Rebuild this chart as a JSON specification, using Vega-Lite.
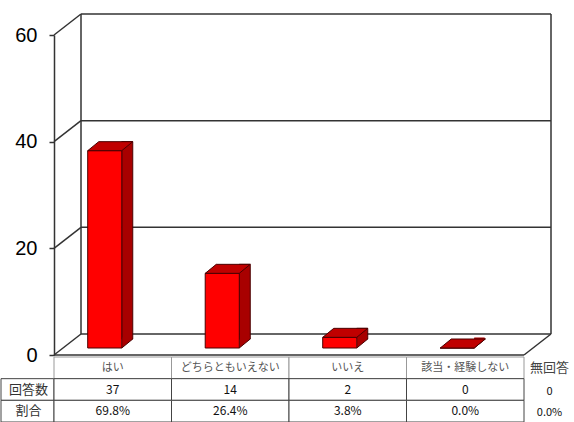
{
  "$schema": "https://vega.github.io/schema/vega-lite/v6.json",
  "background": "white",
  "padding": {"top": 13, "left": 0, "right": 0, "bottom": 0},
  "config": {"view": {"stroke": null}, "font": "Noto Sans CJK JP"},
  "datasets": {
    "answers": [
      {"cat": "はい", "n": 37, "pct": "69.8%"},
      {"cat": "どちらともいえない", "n": 14, "pct": "26.4%"},
      {"cat": "いいえ", "n": 2, "pct": "3.8%"},
      {"cat": "該当・経験しない", "n": 0, "pct": "0.0%"}
    ],
    "noanswer": [{"cat": "無回答", "n": 0, "pct": "0.0%"}],
    "ticks": [{"v": 0}, {"v": 20}, {"v": 40}, {"v": 60}],
    "rowheads": [{"h": "回答数"}, {"h": "割合"}]
  },
  "columns": 3,
  "bounds": "flush",
  "spacing": {"row": 2, "column": 0},
  "concat": [
    {
      "width": 53, "height": 320,
      "data": {"values": [{}]},
      "mark": {"type": "text"},
      "encoding": {"text": {"value": ""}}
    },
    {
      "width": 470, "height": 320,
      "resolve": {"scale": {"x": "independent"}},
      "layer": [
        {
          "data": {"name": "ticks"},
          "mark": {"type": "rule", "color": "#333333", "strokeWidth": 1.5, "xOffset": 27, "x2Offset": 27, "yOffset": -21, "y2Offset": -21},
          "encoding": {
            "x": {"datum": 0, "type": "quantitative", "scale": {"domain": [0, 1]}, "axis": null},
            "x2": {"datum": 1},
            "y": {
              "field": "v", "type": "quantitative",
              "scale": {"domain": [0, 60], "nice": false},
              "axis": {
                "values": [0, 20, 40, 60], "title": null, "grid": false,
                "labelFont": "Liberation Sans", "labelFontSize": 20, "labelColor": "#000000",
                "labelPadding": 12, "tickSize": 5, "tickColor": "#333333", "tickWidth": 1.5,
                "domain": true, "domainColor": "#333333", "domainWidth": 1.5
              }
            },
            "y2": {"field": "v"}
          }
        },
        {
          "data": {"name": "ticks"},
          "mark": {"type": "rule", "color": "#333333", "strokeWidth": 1.5, "x2Offset": 27, "y2Offset": -21},
          "encoding": {
            "x": {"datum": 0, "type": "quantitative", "scale": {"domain": [0, 1]}, "axis": null},
            "x2": {"datum": 0},
            "y": {"field": "v", "type": "quantitative", "title": null},
            "y2": {"field": "v"}
          }
        },
        {
          "data": {"values": [{}]},
          "mark": {"type": "rule", "color": "#333333", "strokeWidth": 1.5, "xOffset": 27, "yOffset": -21, "y2Offset": -21},
          "encoding": {
            "x": {"datum": 0, "type": "quantitative", "scale": {"domain": [0, 1]}, "axis": null},
            "y": {"datum": 0, "type": "quantitative", "title": null},
            "y2": {"datum": 60}
          }
        },
        {
          "data": {"values": [{}]},
          "mark": {"type": "rule", "color": "#333333", "strokeWidth": 1.5, "xOffset": 27, "yOffset": -21, "y2Offset": -21},
          "encoding": {
            "x": {"datum": 1, "type": "quantitative", "scale": {"domain": [0, 1]}, "axis": null},
            "y": {"datum": 0, "type": "quantitative", "title": null},
            "y2": {"datum": 60}
          }
        },
        {
          "data": {"values": [{}]},
          "mark": {"type": "rule", "color": "#333333", "strokeWidth": 1.5, "x2Offset": 27, "y2Offset": -21},
          "encoding": {
            "x": {"datum": 1, "type": "quantitative", "scale": {"domain": [0, 1]}, "axis": null},
            "x2": {"datum": 1},
            "y": {"datum": 0, "type": "quantitative", "title": null},
            "y2": {"datum": 0}
          }
        },
        {
          "data": {"values": [{}]},
          "mark": {"type": "rule", "color": "#333333", "strokeWidth": 1.5},
          "encoding": {
            "x": {"datum": 0, "type": "quantitative", "scale": {"domain": [0, 1]}, "axis": null},
            "x2": {"datum": 1},
            "y": {"datum": 0, "type": "quantitative", "title": null}
          }
        },
        {
          "data": {"name": "answers"},
          "mark": {"type": "bar", "width": 11, "xOffset": 14.5, "yOffset": -16, "y2Offset": -16, "fill": "#A80000", "stroke": "#4a0000", "strokeWidth": 1},
          "encoding": {
            "x": {"field": "cat", "type": "nominal", "sort": null, "scale": {"paddingInner": 0, "paddingOuter": 0}, "axis": null},
            "y": {"field": "n", "type": "quantitative", "title": null}
          }
        },
        {
          "data": {"name": "answers"},
          "mark": {"type": "point", "shape": "M0,0L11,-9L10.4,-9L10.4,-10.6L0,-10.6Z", "size": 4, "filled": true, "opacity": 1, "fill": "#A80000", "strokeWidth": 0, "xOffset": 9, "yOffset": -7},
          "encoding": {
            "x": {"field": "cat", "type": "nominal", "sort": null, "scale": {"paddingInner": 0, "paddingOuter": 0}, "axis": null},
            "y": {"datum": 0, "type": "quantitative", "title": null}
          }
        },
        {
          "data": {"name": "answers"},
          "mark": {"type": "point", "shape": "M0,0L11,-9", "size": 4, "filled": false, "opacity": 1, "stroke": "#4a0000", "strokeWidth": 1, "xOffset": 9, "yOffset": -7},
          "encoding": {
            "x": {"field": "cat", "type": "nominal", "sort": null, "scale": {"paddingInner": 0, "paddingOuter": 0}, "axis": null},
            "y": {"datum": 0, "type": "quantitative", "title": null}
          }
        },
        {
          "data": {"name": "answers"},
          "mark": {"type": "bar", "width": {"band": 0.29}, "xOffset": -8, "yOffset": -7, "y2Offset": -7, "fill": "#FF0000", "stroke": "#4a0000", "strokeWidth": 1},
          "encoding": {
            "x": {"field": "cat", "type": "nominal", "sort": null, "scale": {"paddingInner": 0, "paddingOuter": 0}, "axis": null},
            "y": {"field": "n", "type": "quantitative", "title": null}
          }
        },
        {
          "data": {"name": "answers"},
          "mark": {"type": "point", "shape": "M-17,0L17,0L28,-9L-6,-9Z", "size": 4, "filled": true, "opacity": 1, "fill": "#C00000", "stroke": "#4a0000", "strokeWidth": 1, "xOffset": -8, "yOffset": -7},
          "encoding": {
            "x": {"field": "cat", "type": "nominal", "sort": null, "scale": {"paddingInner": 0, "paddingOuter": 0}, "axis": null},
            "y": {"field": "n", "type": "quantitative", "title": null}
          }
        }
      ]
    },
    {
      "width": 51, "height": 320,
      "data": {"values": [{}]},
      "mark": {"type": "text"},
      "encoding": {"text": {"value": ""}}
    },
    {
      "width": 53, "height": 65,
      "data": {"name": "rowheads"},
      "layer": [
        {
          "mark": {"type": "rect", "fill": "white", "stroke": "#444444", "strokeWidth": 1},
          "encoding": {
            "y": {"field": "h", "type": "nominal", "scale": {"domain": ["見出し", "回答数", "割合"], "paddingInner": 0, "paddingOuter": 0}, "axis": null}
          }
        },
        {
          "mark": {"type": "text", "fontSize": 13, "color": "#333333", "dx": 1},
          "encoding": {
            "y": {"field": "h", "type": "nominal"},
            "text": {"field": "h"}
          }
        }
      ]
    },
    {
      "width": 470, "height": 65,
      "data": {"name": "answers"},
      "encoding": {
        "x": {"field": "cat", "type": "nominal", "sort": null, "scale": {"paddingInner": 0, "paddingOuter": 0}, "axis": null}
      },
      "layer": [
        {
          "mark": {"type": "rect", "fill": "white", "stroke": "#999999", "strokeWidth": 1},
          "encoding": {"y": {"datum": "見出し", "type": "nominal", "scale": {"domain": ["見出し", "回答数", "割合"], "paddingInner": 0, "paddingOuter": 0}, "axis": null}}
        },
        {
          "mark": {"type": "rect", "fill": "white", "stroke": "#444444", "strokeWidth": 1},
          "encoding": {"y": {"datum": "回答数", "type": "nominal"}}
        },
        {
          "mark": {"type": "rect", "fill": "white", "stroke": "#444444", "strokeWidth": 1},
          "encoding": {"y": {"datum": "割合", "type": "nominal"}}
        },
        {
          "mark": {"type": "text", "fontSize": 11, "color": "#555555"},
          "encoding": {"y": {"datum": "見出し", "type": "nominal"}, "text": {"field": "cat"}}
        },
        {
          "mark": {"type": "text", "fontSize": 12, "color": "#111111"},
          "encoding": {"y": {"datum": "回答数", "type": "nominal"}, "text": {"field": "n"}}
        },
        {
          "mark": {"type": "text", "fontSize": 12, "color": "#111111"},
          "encoding": {"y": {"datum": "割合", "type": "nominal"}, "text": {"field": "pct"}}
        }
      ]
    },
    {
      "width": 51, "height": 65,
      "data": {"name": "noanswer"},
      "layer": [
        {
          "mark": {"type": "text", "fontSize": 13, "color": "#444444"},
          "encoding": {"y": {"datum": "見出し", "type": "nominal", "scale": {"domain": ["見出し", "回答数", "割合"], "paddingInner": 0, "paddingOuter": 0}, "axis": null}, "text": {"field": "cat"}}
        },
        {
          "mark": {"type": "text", "fontSize": 11, "color": "#111111", "dy": 2},
          "encoding": {"y": {"datum": "回答数", "type": "nominal"}, "text": {"field": "n"}}
        },
        {
          "mark": {"type": "text", "fontSize": 11, "color": "#111111", "dy": 2},
          "encoding": {"y": {"datum": "割合", "type": "nominal"}, "text": {"field": "pct"}}
        }
      ]
    }
  ]
}
